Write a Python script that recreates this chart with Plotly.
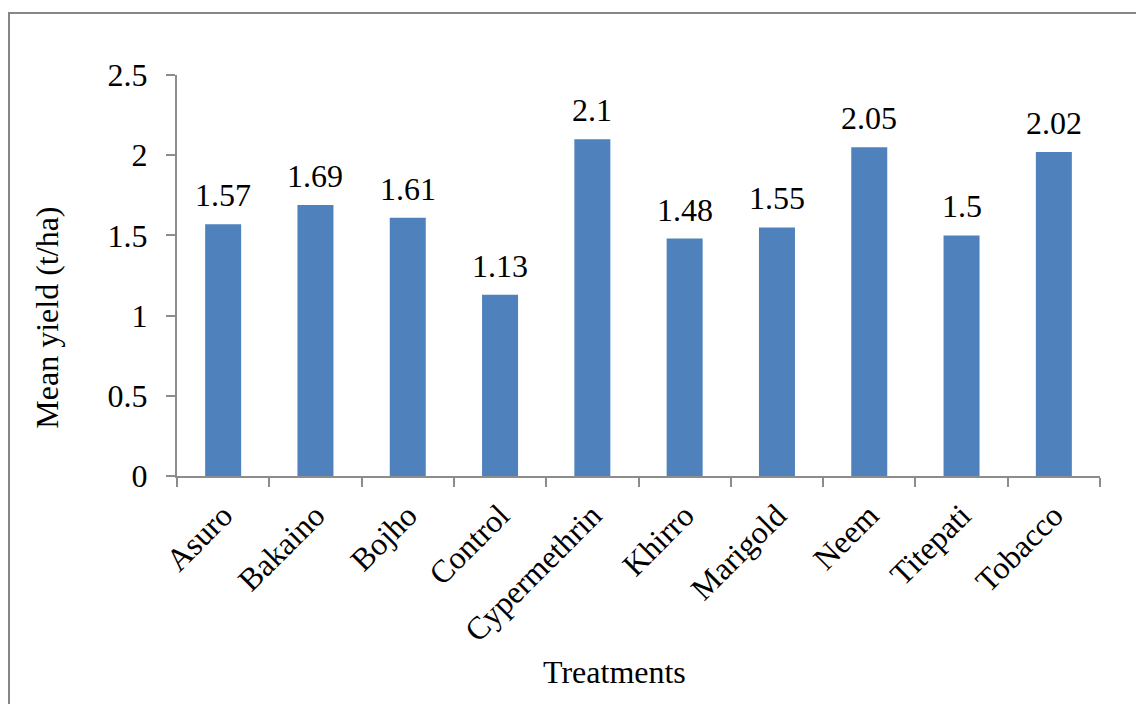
import plotly.graph_objects as go

treatments = ["Asuro", "Bakaino", "Bojho", "Control", "Cypermethrin",
              "Khirro", "Marigold", "Neem", "Titepati", "Tobacco"]
mean_yield = [1.57, 1.69, 1.61, 1.13, 2.1, 1.48, 1.55, 2.05, 1.5, 2.02]
yield_labels = ["1.57", "1.69", "1.61", "1.13", "2.1", "1.48", "1.55", "2.05", "1.5", "2.02"]
y_ticks = [0, 0.5, 1, 1.5, 2, 2.5]
y_tick_text = ["0", "0.5", "1", "1.5", "2", "2.5"]

FONT = "Liberation Serif, Times New Roman, serif"
FS = 32
AXIS_GREY = "#8c8c8c"

fig = go.Figure()
fig.add_trace(go.Bar(
    x=treatments,
    y=mean_yield,
    marker=dict(color="#4f81bd", line=dict(width=0)),
    width=0.39,
    hoverinfo="x+y",
))

# value labels above each bar
for name, val, lab in zip(treatments, mean_yield, yield_labels):
    fig.add_annotation(x=name, y=val, text=lab, showarrow=False,
                       xanchor="center", yanchor="bottom", yshift=9,
                       font=dict(family=FONT, size=FS, color="black"))

# axis titles
fig.add_annotation(xref="paper", yref="paper", x=0.4735, y=-0.489,
                   text="Treatments", showarrow=False,
                   xanchor="center", yanchor="middle",
                   font=dict(family=FONT, size=FS, color="black"))
fig.add_annotation(xref="paper", yref="paper", x=-0.1408, y=0.395,
                   text="Mean yield (t/ha)", showarrow=False, textangle=-90,
                   xanchor="center", yanchor="middle",
                   font=dict(family=FONT, size=FS, color="black"))

# outer frame around the chart
fig.add_shape(type="rect", xref="paper", yref="paper",
              x0=-0.182, x1=1.06, y0=-0.6, y1=1.1546,
              line=dict(color="#868686", width=2), fillcolor="rgba(0,0,0,0)",
              layer="below")

fig.update_layout(
    width=1136, height=704,
    margin=dict(l=177, r=36, t=75, b=228),
    paper_bgcolor="white", plot_bgcolor="white",
    font=dict(family=FONT, size=FS, color="black"),
    showlegend=False,
    xaxis=dict(
        type="category",
        tickson="boundaries",
        ticks="outside", ticklen=9, tickcolor=AXIS_GREY, tickwidth=2,
        showline=True, linecolor=AXIS_GREY, linewidth=2,
        showgrid=False, zeroline=False,
        tickangle=-45,
        ticklabelstandoff=6,
        tickfont=dict(family=FONT, size=FS),
    ),
    yaxis=dict(
        range=[0, 2.5],
        tickvals=y_ticks, ticktext=y_tick_text,
        ticks="outside", ticklen=9, tickcolor=AXIS_GREY, tickwidth=2,
        showline=True, linecolor=AXIS_GREY, linewidth=2,
        showgrid=False, zeroline=False,
        ticklabelstandoff=12,
        tickfont=dict(family=FONT, size=FS),
    ),
)

fig.write_html("out.html")
